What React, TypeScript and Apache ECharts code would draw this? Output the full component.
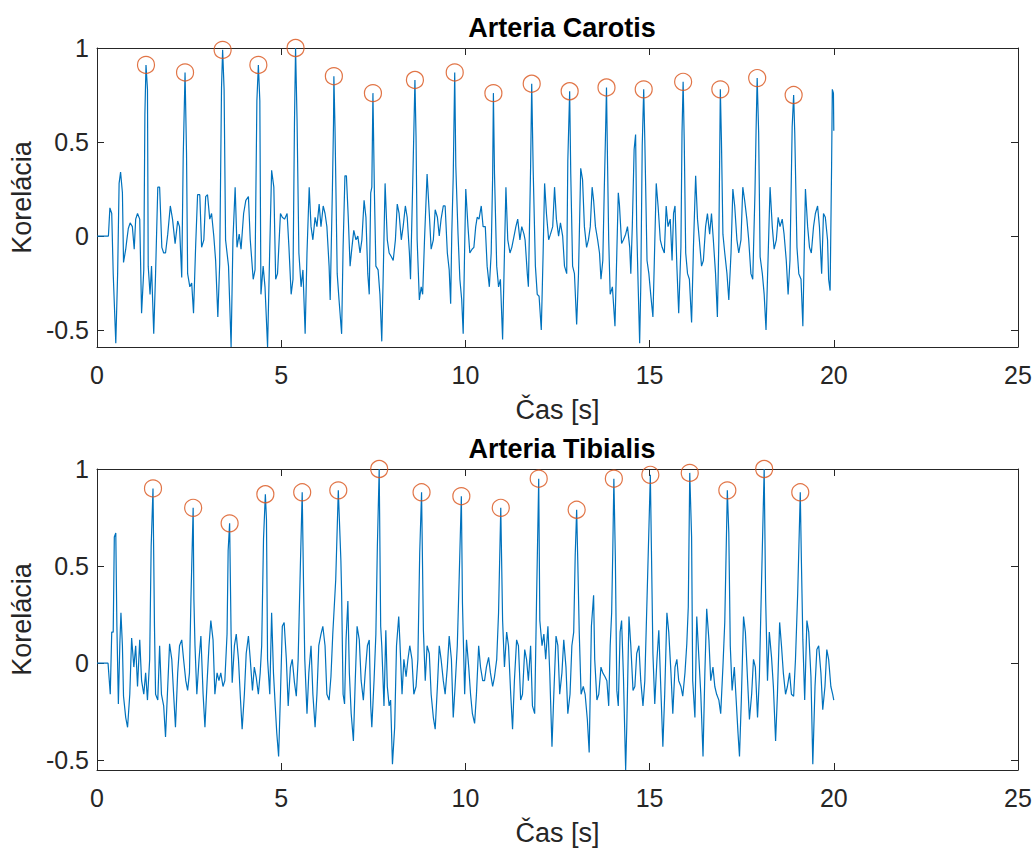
import React, { useEffect, useRef } from "react";
import * as echarts from "echarts";

const xTicks = [0, 5, 10, 15, 20, 25];
const yTicks = [-0.5, 0, 0.5, 1];
const titles = ["Arteria Carotis", "Arteria Tibialis"];
const xLabel = "Čas [s]";
const yLabel = "Korelácia";
const yMins = [-0.59, -0.55];

const carotisSignal: [number, number][] = [
  [0, 0], [0.31, 0], [0.35, 0.15], [0.4, 0.12], [0.44, -0.2], [0.51, -0.57], [0.56, -0.2], [0.6, 0.28], [0.64, 0.34], [0.69, 0.23], [0.72, -0.14], [0.78, -0.07], [0.81, -0.02], [0.85, 0.04], [0.9, 0.07], [0.96, 0.05], [1.01, -0.07], [1.05, 0.09], [1.1, 0.12], [1.16, 0.09], [1.21, -0.41], [1.27, -0.18], [1.3, 0.65], [1.33, 0.91], [1.37, 0.78], [1.39, -0.16], [1.44, -0.31], [1.48, -0.16], [1.54, -0.52], [1.59, -0.2], [1.65, 0.26], [1.7, 0.26], [1.76, -0.06], [1.81, -0.09], [1.86, -0.09], [1.92, 0.01], [1.99, 0.16], [2.05, 0.09], [2.12, -0.04], [2.19, 0.08], [2.24, 0.05], [2.3, -0.22], [2.34, 0.42], [2.39, 0.87], [2.43, 0.44], [2.46, -0.2], [2.52, -0.27], [2.57, -0.25], [2.62, -0.41], [2.68, -0.04], [2.73, 0.22], [2.79, 0.22], [2.84, -0.06], [2.9, -0.02], [2.95, 0.21], [3.0, 0.22], [3.06, 0.09], [3.11, 0.12], [3.17, 0.0], [3.22, -0.13], [3.28, -0.43], [3.33, -0.15], [3.38, 0.79], [3.41, 0.99], [3.45, 0.78], [3.49, -0.02], [3.57, -0.16], [3.64, -0.59], [3.69, -0.02], [3.75, 0.26], [3.8, -0.06], [3.86, 0.01], [3.91, -0.07], [3.98, 0.12], [4.04, 0.19], [4.11, 0.21], [4.16, -0.02], [4.24, -0.23], [4.29, -0.18], [4.34, 0.72], [4.38, 0.91], [4.42, 0.72], [4.45, -0.31], [4.51, -0.16], [4.56, -0.27], [4.63, -0.59], [4.69, -0.06], [4.74, 0.35], [4.8, 0.26], [4.85, -0.23], [4.9, -0.2], [4.98, 0.12], [5.03, 0.1], [5.09, 0.09], [5.16, 0.12], [5.21, -0.06], [5.27, -0.31], [5.32, -0.23], [5.36, 0.6], [5.39, 1.0], [5.43, 0.62], [5.48, -0.09], [5.54, -0.27], [5.59, -0.18], [5.65, -0.52], [5.7, -0.09], [5.76, 0.26], [5.81, 0.05], [5.86, -0.02], [5.92, 0.1], [5.97, 0.05], [6.03, 0.17], [6.08, 0.05], [6.14, 0.16], [6.19, 0.12], [6.24, 0.05], [6.3, -0.16], [6.33, -0.34], [6.39, 0.25], [6.42, 0.6], [6.43, 0.85], [6.46, 0.58], [6.52, -0.2], [6.57, -0.34], [6.64, -0.52],
  [6.68, -0.06], [6.73, 0.32], [6.77, 0.32], [6.82, 0.1], [6.87, -0.16], [6.92, -0.06], [6.97, 0.03], [7.03, -0.02], [7.08, 0.0], [7.14, -0.09], [7.19, -0.02], [7.25, 0.19], [7.3, 0.1], [7.35, -0.2], [7.39, -0.31], [7.43, 0.23], [7.46, 0.26], [7.49, 0.76], [7.53, 0.23], [7.57, -0.16], [7.63, -0.18], [7.68, -0.31], [7.73, -0.56], [7.77, -0.2], [7.82, 0.28], [7.88, -0.02], [7.93, -0.09], [7.99, -0.11], [8.04, -0.13], [8.1, -0.02], [8.15, 0.17], [8.2, 0.12], [8.26, -0.02], [8.31, 0.05], [8.37, 0.16], [8.42, 0.1], [8.48, -0.09], [8.51, -0.23], [8.57, 0.28], [8.6, 0.55], [8.63, 0.83], [8.66, 0.53], [8.69, -0.02], [8.75, -0.34], [8.8, -0.27], [8.84, -0.31], [8.89, -0.02], [8.96, 0.33], [9.02, 0.12], [9.07, -0.07], [9.13, -0.02], [9.18, 0.14], [9.24, 0.1], [9.29, 0.0], [9.34, 0.09], [9.4, 0.16], [9.45, 0.16], [9.51, -0.09], [9.56, -0.18], [9.6, -0.36], [9.63, 0.01], [9.67, 0.32], [9.71, 0.87], [9.74, 0.37], [9.8, 0.01], [9.85, -0.23], [9.9, -0.34], [9.94, -0.52], [9.98, -0.06], [10.01, 0.25], [10.07, 0.05], [10.12, -0.09], [10.18, -0.07], [10.23, -0.06], [10.28, 0.05], [10.32, 0.1], [10.37, 0.09], [10.43, 0.16], [10.48, 0.05], [10.54, 0.05], [10.59, -0.16], [10.65, -0.27], [10.7, -0.09], [10.74, 0.32], [10.76, 0.76], [10.79, 0.33], [10.85, -0.16], [10.9, -0.27], [10.95, -0.23], [11.01, -0.55], [11.06, -0.09], [11.1, 0.26], [11.15, -0.02], [11.21, -0.09], [11.26, -0.06], [11.32, 0.0], [11.37, 0.05], [11.42, 0.09], [11.48, -0.02], [11.53, 0.05], [11.59, 0.01], [11.62, -0.02], [11.68, -0.2], [11.71, -0.27], [11.77, 0.37], [11.8, 0.81], [11.84, 0.35], [11.9, -0.16], [11.95, -0.31], [12.0, -0.32], [12.06, -0.5], [12.11, -0.09], [12.15, 0.28], [12.2, 0.12], [12.26, -0.02], [12.31, 0.01], [12.37, 0.05], [12.42, 0.26], [12.47, 0.09], [12.53, 0.0], [12.58, 0.07], [12.64, 0.0], [12.69, -0.16], [12.75, -0.2], [12.78, 0.4], [12.83, 0.77], [12.86, 0.33], [12.91, -0.16], [12.96, -0.2], [13.02, -0.47], [13.07, -0.2], [13.13, 0.36], [13.18, 0.3], [13.23, 0.05], [13.29, -0.06], [13.34, -0.02],
  [13.39, 0.05], [13.44, 0.26], [13.48, 0.19], [13.53, 0.05], [13.59, -0.02], [13.64, -0.09], [13.68, -0.23], [13.73, -0.13], [13.77, 0.25], [13.8, 0.51], [13.83, 0.79], [13.86, 0.37], [13.89, -0.02], [13.93, -0.31], [13.99, -0.27], [14.06, -0.48], [14.11, -0.09], [14.15, 0.23], [14.18, 0.17], [14.24, -0.04], [14.29, -0.02], [14.35, 0.01], [14.4, 0.05], [14.46, -0.06], [14.49, -0.2], [14.53, 0.05], [14.58, 0.46], [14.62, 0.54], [14.65, 0.05], [14.69, -0.27], [14.73, -0.57], [14.76, -0.27], [14.8, 0.48], [14.84, 0.78], [14.87, 0.51], [14.93, -0.13], [14.98, -0.2], [15.03, -0.31], [15.09, -0.43], [15.12, -0.2], [15.18, 0.28], [15.23, 0.16], [15.29, -0.02], [15.34, -0.06], [15.4, -0.09], [15.45, 0.16], [15.5, 0.05], [15.56, 0.09], [15.61, -0.13], [15.65, 0.12], [15.69, 0.16], [15.74, -0.16], [15.79, -0.41], [15.85, -0.06], [15.88, 0.55], [15.91, 0.82], [15.94, 0.51], [15.98, -0.09], [16.03, -0.2], [16.08, -0.23], [16.14, -0.46], [16.19, -0.06], [16.25, 0.32], [16.3, 0.09], [16.35, -0.02], [16.41, -0.16], [16.46, -0.13], [16.52, 0.05], [16.57, 0.12], [16.63, 0.01], [16.68, 0.12], [16.73, -0.02], [16.79, -0.2], [16.84, -0.43], [16.88, -0.02], [16.91, 0.58], [16.92, 0.78], [16.95, 0.51], [16.99, 0.01], [17.04, -0.09], [17.1, -0.2], [17.15, -0.34], [17.21, -0.09], [17.26, 0.25], [17.31, 0.16], [17.37, -0.02], [17.42, -0.09], [17.48, -0.02], [17.53, 0.26], [17.58, 0.19], [17.64, 0.09], [17.69, -0.02], [17.75, -0.2], [17.8, -0.23], [17.86, 0.23], [17.89, 0.56], [17.92, 0.84], [17.96, 0.55], [18.0, -0.11], [18.06, -0.2], [18.11, -0.31], [18.16, -0.5], [18.22, -0.09], [18.27, 0.26], [18.33, 0.05], [18.38, -0.07], [18.44, -0.02], [18.49, 0.1], [18.54, 0.05], [18.6, 0.09], [18.65, 0.01], [18.71, -0.13], [18.76, -0.31], [18.81, -0.13], [18.87, 0.58], [18.91, 0.75], [18.94, 0.55], [19.0, -0.06], [19.05, -0.2], [19.11, -0.23], [19.16, -0.48], [19.2, -0.06], [19.23, 0.25], [19.29, 0.05], [19.34, -0.06], [19.39, -0.09], [19.45, 0.05], [19.5, 0.12], [19.56, 0.16], [19.61, 0.05], [19.67, -0.2], [19.72, 0.12], [19.77, 0.1], [19.83, -0.02], [19.86, -0.23], [19.9, -0.29], [19.94, 0.37], [19.96, 0.78], [19.99, 0.76], [20.0, 0.56],
];

const carotisPeaks: [number, number][] = [
  [1.33, 0.91], [2.39, 0.87], [3.41, 0.99], [4.38, 0.91], [5.39, 1.0], [6.43, 0.85], [7.49, 0.76], [8.63, 0.83], [9.71, 0.87], [10.76, 0.76], [11.8, 0.81], [12.83, 0.77], [13.83, 0.79], [14.84, 0.78], [15.91, 0.82], [16.92, 0.78], [17.92, 0.84], [18.91, 0.75],
];

const tibialisSignal: [number, number][] = [
  [0, 0], [0.3, 0], [0.33, -0.08], [0.36, -0.16], [0.4, 0.16], [0.44, 0.16], [0.47, 0.65], [0.51, 0.67], [0.54, 0.19], [0.58, -0.21], [0.62, 0.1], [0.65, 0.26], [0.69, 0.09], [0.72, -0.17], [0.78, -0.28], [0.83, -0.33], [0.89, -0.16], [0.94, 0.13], [1.0, -0.02], [1.05, 0.09], [1.1, -0.12], [1.16, 0.12], [1.21, -0.09], [1.27, -0.16], [1.32, -0.05], [1.37, -0.19], [1.43, 0.02], [1.47, 0.6], [1.52, 0.9], [1.56, 0.19], [1.59, -0.16], [1.65, -0.19], [1.7, 0.09], [1.75, -0.16], [1.81, -0.22], [1.86, -0.38], [1.92, -0.12], [1.97, 0.1], [2.03, 0.02], [2.08, -0.16], [2.13, -0.33], [2.19, -0.05], [2.24, 0.09], [2.3, 0.12], [2.35, 0.02], [2.41, -0.09], [2.46, -0.14], [2.51, -0.05], [2.55, 0.33], [2.61, 0.8], [2.63, 0.33], [2.66, 0.09], [2.71, -0.16], [2.77, 0.02], [2.82, 0.14], [2.88, -0.16], [2.93, -0.33], [2.99, -0.09], [3.04, 0.09], [3.09, 0.22], [3.15, 0.12], [3.2, -0.16], [3.26, -0.05], [3.31, -0.09], [3.36, -0.05], [3.42, -0.12], [3.47, -0.09], [3.53, 0.15], [3.56, 0.58], [3.6, 0.72], [3.64, 0.15], [3.67, -0.1], [3.73, 0.09], [3.78, 0.15], [3.84, 0.02], [3.89, -0.17], [3.94, -0.34], [4.0, -0.16], [4.05, 0.05], [4.11, 0.14], [4.16, 0.02], [4.22, -0.14], [4.27, -0.02], [4.32, -0.07], [4.38, -0.16], [4.43, -0.05], [4.47, 0.09], [4.52, 0.64], [4.57, 0.87], [4.6, 0.74], [4.63, 0.02], [4.69, -0.16], [4.74, 0.26], [4.79, -0.05], [4.85, -0.26], [4.88, -0.36], [4.93, -0.48], [4.98, -0.16], [5.03, 0.19], [5.08, 0.21], [5.14, 0.02], [5.19, -0.22], [5.25, -0.02], [5.3, 0.02], [5.36, -0.1], [5.41, -0.17], [5.46, 0.02], [5.52, 0.5], [5.57, 0.88], [5.61, 0.36], [5.64, 0.02], [5.7, -0.26], [5.75, -0.05], [5.81, 0.09], [5.86, -0.16], [5.92, -0.33], [5.97, -0.16], [6.02, 0.09], [6.08, 0.15], [6.13, 0.19], [6.19, 0.09], [6.24, -0.16], [6.3, -0.19], [6.35, -0.07], [6.4, 0.15], [6.48, 0.43], [6.55, 0.89], [6.62, 0.53],
  [6.64, 0.36], [6.68, -0.16], [6.72, -0.21], [6.76, 0.12], [6.81, 0.32], [6.85, -0.05], [6.9, -0.26], [6.96, -0.4], [7.01, -0.09], [7.06, 0.19], [7.12, 0.12], [7.17, -0.09], [7.23, -0.19], [7.28, -0.05], [7.34, 0.09], [7.39, 0.12], [7.43, -0.22], [7.46, -0.33], [7.52, -0.09], [7.57, 0.15], [7.61, 0.6], [7.66, 1.0], [7.7, 0.19], [7.73, 0.09], [7.79, -0.22], [7.84, 0.17], [7.88, -0.12], [7.93, -0.22], [7.97, -0.19], [8.02, -0.52], [8.08, -0.33], [8.13, 0.09], [8.19, 0.24], [8.22, 0.12], [8.28, -0.16], [8.33, 0.02], [8.39, -0.07], [8.44, 0.02], [8.49, 0.09], [8.55, 0.02], [8.6, -0.16], [8.66, -0.12], [8.71, 0.02], [8.76, 0.57], [8.81, 0.88], [8.86, 0.17], [8.91, -0.09], [8.96, 0.09], [9.02, 0.05], [9.07, -0.16], [9.13, -0.28], [9.18, -0.34], [9.24, -0.12], [9.29, 0.09], [9.34, 0.02], [9.4, -0.09], [9.45, -0.16], [9.51, -0.02], [9.56, 0.14], [9.62, 0.02], [9.67, -0.28], [9.72, -0.12], [9.78, 0.09], [9.83, 0.43], [9.89, 0.86], [9.92, 0.31], [9.98, -0.16], [10.03, 0.12], [10.09, -0.02], [10.14, -0.16], [10.19, -0.26], [10.25, -0.31], [10.3, -0.16], [10.36, 0.09], [10.41, -0.02], [10.47, -0.09], [10.52, -0.09], [10.57, -0.02], [10.63, 0.03], [10.68, -0.05], [10.74, -0.12], [10.79, -0.07], [10.85, 0.02], [10.9, 0.26], [10.96, 0.8], [11.01, 0.22], [11.06, -0.02], [11.12, 0.16], [11.17, 0.09], [11.23, -0.16], [11.28, -0.34], [11.33, -0.09], [11.39, 0.12], [11.44, 0.09], [11.5, -0.19], [11.55, -0.16], [11.61, 0.07], [11.66, 0.02], [11.71, -0.09], [11.77, 0.09], [11.82, -0.22], [11.88, -0.26], [11.93, 0.31], [11.99, 0.95], [12.02, 0.22], [12.08, 0.09], [12.13, 0.15], [12.18, 0.02], [12.24, 0.19], [12.29, -0.05], [12.35, -0.43], [12.4, -0.16], [12.46, 0.14], [12.51, 0.09], [12.56, -0.16], [12.62, -0.05], [12.67, 0.12], [12.73, -0.02], [12.78, -0.26], [12.84, -0.16], [12.89, 0.09], [12.94, 0.16], [12.98, 0.55], [13.02, 0.79], [13.05, 0.53], [13.09, 0.16], [13.14, -0.16], [13.2, -0.12], [13.25, -0.16], [13.31, -0.29], [13.36, -0.46],
  [13.42, 0.19], [13.48, 0.35], [13.51, 0.02], [13.57, -0.19], [13.62, -0.16], [13.68, -0.02], [13.73, -0.05], [13.79, -0.07], [13.84, -0.09], [13.89, -0.22], [13.93, 0.09], [13.97, 0.26], [14.0, 0.57], [14.03, 0.95], [14.07, 0.55], [14.11, -0.14], [14.15, -0.22], [14.2, 0.16], [14.24, 0.22], [14.29, -0.07], [14.35, -0.55], [14.38, -0.33], [14.44, 0.24], [14.49, 0.09], [14.55, -0.14], [14.6, -0.12], [14.65, 0.05], [14.71, 0.09], [14.76, -0.09], [14.82, -0.22], [14.87, -0.09], [14.93, 0.33], [15.02, 0.97], [15.05, 0.58], [15.09, 0.05], [15.14, -0.21], [15.2, 0.02], [15.25, 0.17], [15.31, -0.16], [15.36, -0.43], [15.41, -0.16], [15.47, 0.26], [15.52, 0.16], [15.58, -0.05], [15.63, -0.26], [15.69, -0.02], [15.74, 0.02], [15.79, -0.09], [15.85, -0.12], [15.9, -0.17], [15.96, -0.05], [16.01, 0.1], [16.05, 0.29], [16.09, 0.98], [16.14, 0.65], [16.17, -0.09], [16.23, -0.28], [16.28, 0.24], [16.34, 0.02], [16.39, -0.16], [16.45, -0.48], [16.5, -0.05], [16.55, 0.28], [16.61, 0.12], [16.66, -0.09], [16.72, -0.02], [16.77, -0.12], [16.82, -0.16], [16.88, -0.19], [16.93, -0.26], [16.99, -0.02], [17.04, 0.21], [17.11, 0.89], [17.15, 0.67], [17.19, 0.09], [17.24, -0.14], [17.3, -0.02], [17.35, -0.19], [17.4, -0.36], [17.44, -0.48], [17.49, -0.19], [17.55, 0.24], [17.6, 0.16], [17.66, -0.09], [17.71, -0.29], [17.77, -0.16], [17.82, 0.02], [17.87, -0.02], [17.93, -0.28], [17.98, -0.07], [18.04, 0.43], [18.11, 1.0], [18.15, 0.33], [18.2, -0.09], [18.25, 0.16], [18.31, 0.03], [18.36, -0.12], [18.42, -0.4], [18.47, -0.16], [18.53, 0.21], [18.58, 0.09], [18.63, -0.05], [18.69, -0.16], [18.74, -0.12], [18.8, -0.05], [18.85, -0.16], [18.91, -0.17], [18.96, 0.02], [19.02, 0.36], [19.09, 0.88], [19.12, 0.53], [19.16, 0.12], [19.21, -0.19], [19.27, 0.22], [19.32, 0.16], [19.38, -0.07], [19.43, -0.52], [19.49, -0.12], [19.54, 0.07], [19.59, 0.09], [19.65, -0.05], [19.7, -0.24], [19.76, -0.12], [19.81, 0.07], [19.86, 0.02], [19.92, -0.12], [19.97, -0.16], [20.0, -0.19],
];

const tibialisPeaks: [number, number][] = [
  [1.52, 0.9], [2.61, 0.8], [3.6, 0.72], [4.57, 0.87], [5.57, 0.88], [6.55, 0.89], [7.66, 1.0], [8.81, 0.88], [9.89, 0.86], [10.96, 0.8], [11.99, 0.95], [13.02, 0.79], [14.03, 0.95], [15.02, 0.97], [16.09, 0.98], [17.11, 0.89], [18.11, 1.0], [19.09, 0.88],
];

const FONT = "'Liberation Sans', Arial, Helvetica, sans-serif";
const AX = "#262626";
const LINE = "#0072BD";
const PEAK = "#D95319";

const grids = [
  { left: 97, right: 18, top: 48, height: 299 },
  { left: 97, right: 18, top: 469, height: 301 },
];

function makeXAxes(gridIndex: number) {
  const common = {
    type: "value",
    gridIndex,
    min: xTicks[0],
    max: xTicks[xTicks.length - 1],
    interval: 5,
    axisLine: { show: true, onZero: false, lineStyle: { color: AX, width: 1 } },
    axisTick: { show: true, inside: true, length: 7, lineStyle: { color: AX, width: 1 } },
    splitLine: { show: false },
  };
  return [
    {
      ...common,
      position: "bottom",
      axisLabel: { show: true, color: AX, fontSize: 25, fontFamily: FONT, margin: 15, showMinLabel: true, showMaxLabel: true },
      name: xLabel,
      nameLocation: "middle",
      nameGap: 49,
      nameTextStyle: { color: AX, fontSize: 27, fontFamily: FONT },
    },
    { ...common, position: "top", axisLabel: { show: false } },
  ];
}

function makeYAxes(gridIndex: number) {
  const common = {
    type: "value",
    gridIndex,
    min: yMins[gridIndex],
    max: yTicks[yTicks.length - 1],
    axisLine: { show: true, onZero: false, lineStyle: { color: AX, width: 1 } },
    axisTick: { show: true, inside: true, length: 7, customValues: yTicks, lineStyle: { color: AX, width: 1 } },
    splitLine: { show: false },
  };
  return [
    {
      ...common,
      position: "left",
      axisLabel: {
        show: true,
        color: AX,
        fontSize: 25,
        fontFamily: FONT,
        margin: 8,
        customValues: yTicks,
        formatter: (v: number) => String(v),
      },
      name: yLabel,
      nameLocation: "middle",
      nameRotate: 90,
      nameGap: 58,
      nameTextStyle: { color: AX, fontSize: 27, fontFamily: FONT },
    },
    { ...common, position: "right", axisLabel: { show: false } },
  ];
}

export default function App() {
  const ref = useRef<HTMLDivElement>(null);
  useEffect(() => {
    if (!ref.current) return;
    const chart = echarts.init(ref.current, null, { renderer: "svg" });
    const signals = [carotisSignal, tibialisSignal];
    const peaks = [carotisPeaks, tibialisPeaks];
    const series: any[] = [];
    signals.forEach((s, i) => {
      series.push({
        type: "line",
        xAxisIndex: i * 2,
        yAxisIndex: i * 2,
        data: s,
        showSymbol: false,
        symbol: "none",
        lineStyle: { color: LINE, width: 1.2 },
        clip: true,
        z: 2,
      });
      series.push({
        type: "scatter",
        xAxisIndex: i * 2,
        yAxisIndex: i * 2,
        data: peaks[i],
        symbol: "circle",
        symbolSize: 17,
        itemStyle: { color: "rgba(0,0,0,0)", borderColor: PEAK, borderWidth: 1.2 },
        clip: false,
        z: 3,
      });
    });
    chart.setOption({
      animation: false,
      backgroundColor: "#ffffff",
      title: titles.map((t, i) => ({
        text: t,
        left: 557,
        textAlign: "center",
        top: i === 0 ? 9 : 430,
        textStyle: { color: "#000", fontSize: 27, fontWeight: "bold", fontFamily: FONT },
      })),
      grid: grids,
      xAxis: [...makeXAxes(0), ...makeXAxes(1)],
      yAxis: [...makeYAxes(0), ...makeYAxes(1)],
      series,
    });
    return () => chart.dispose();
  }, []);
  return (
    <div
      ref={ref}
      style={{ position: "fixed", left: 0, top: 0, width: 1036, height: 849, background: "#fff" }}
    />
  );
}
